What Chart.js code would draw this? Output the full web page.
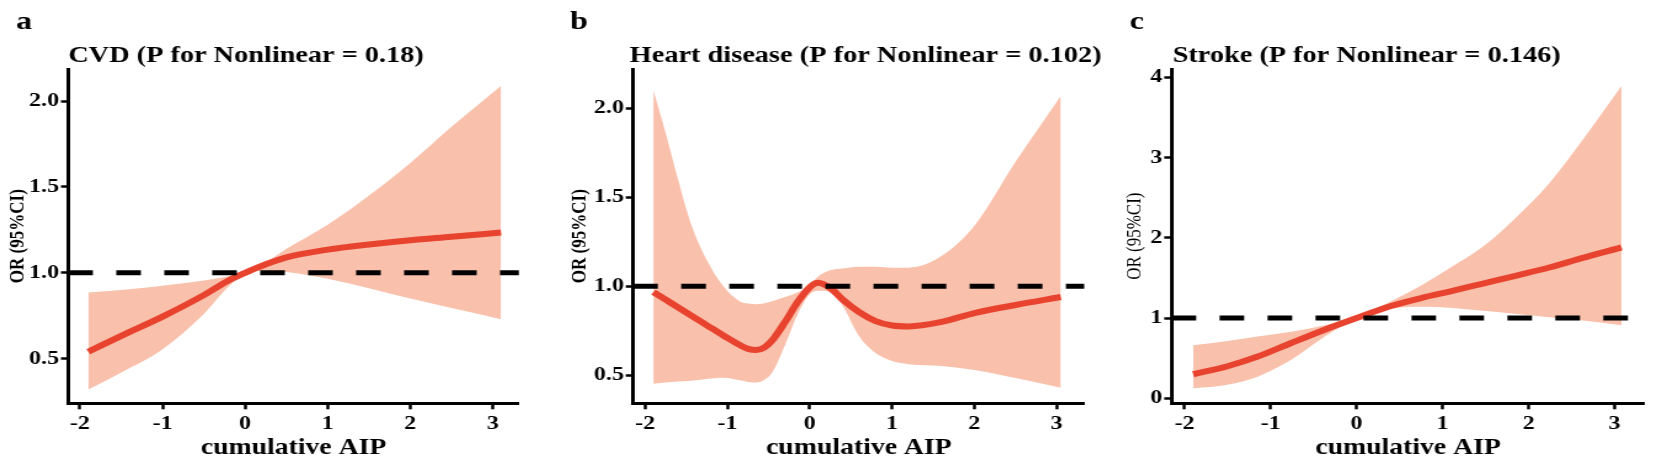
<!DOCTYPE html>
<html>
<head>
<meta charset="utf-8">
<script src="https://cdn.jsdelivr.net/npm/chart.js@4.4.1/dist/chart.umd.min.js"></script>
<style>
  html, body { margin: 0; padding: 0; background: #fff; }
  body { width: 1654px; height: 469px; position: relative; overflow: hidden; }
  .panel { position: absolute; top: 0; height: 469px; transform-origin: 0 0; }
</style>
</head>
<body>
<div class="panel" id="panelA"><canvas></canvas></div>
<div class="panel" id="panelB"><canvas></canvas></div>
<div class="panel" id="panelC"><canvas></canvas></div>
<script>
// ---- data ----
const xTicks = [-2, -1, 0, 1, 2, 3];
const xTickLabels = ["-2", "-1", "0", "1", "2", "3"];
const refOR = 1;

// a: CVD
const cvdX    = [-1.9, -1.5, -1.0, -0.5, -0.2, 0, 0.25, 0.5, 1.0, 1.5, 2.0, 2.5, 3.1];
const cvdOR   = [0.54, 0.633, 0.745, 0.87, 0.955, 1.0, 1.05, 1.09, 1.135, 1.165, 1.19, 1.21, 1.235];
const cvdLow  = [0.32, 0.42, 0.555, 0.76, 0.92, 0.995, 1.012, 1.005, 0.965, 0.91, 0.85, 0.795, 0.73];
const cvdHigh = [0.885, 0.9, 0.925, 0.955, 0.98, 1.005, 1.06, 1.14, 1.28, 1.45, 1.64, 1.85, 2.09];
const cvdYTicks = [0.5, 1.0, 1.5, 2.0];
const cvdYTickLabels = ["0.5", "1.0", "1.5", "2.0"];

// b: Heart disease
const heartX    = [-1.9, -1.75, -1.6, -1.45, -1.25, -1.05, -0.85, -0.75, -0.65, -0.55, -0.45, -0.3, -0.15, 0.0, 0.1, 0.25, 0.4, 0.6, 0.8, 1.0, 1.2, 1.6, 2.0, 2.5, 3.05];
const heartOR   = [0.968, 0.925, 0.882, 0.838, 0.781, 0.724, 0.67, 0.649, 0.642, 0.657, 0.7, 0.8, 0.91, 0.995, 1.02, 0.99, 0.925, 0.855, 0.805, 0.78, 0.775, 0.80, 0.85, 0.895, 0.94];
const heartLow  = [0.453, 0.46, 0.465, 0.47, 0.48, 0.487, 0.472, 0.463, 0.46, 0.475, 0.52, 0.67, 0.84, 0.955, 0.975, 0.97, 0.89, 0.72, 0.625, 0.58, 0.563, 0.553, 0.53, 0.485, 0.43];
const heartHigh = [2.1, 1.86, 1.6, 1.36, 1.146, 1.0, 0.915, 0.903, 0.9, 0.905, 0.918, 0.94, 0.965, 1.005, 1.055, 1.09, 1.1, 1.11, 1.11, 1.105, 1.105, 1.17, 1.34, 1.7, 2.07];
const heartYTicks = [0.5, 1.0, 1.5, 2.0];
const heartYTickLabels = ["0.5", "1.0", "1.5", "2.0"];

// c: Stroke
const strokeX    = [-1.9, -1.5, -1.15, -0.76, -0.37, 0, 0.4, 0.79, 1.08, 1.47, 1.86, 2.24, 2.63, 3.08];
const strokeOR   = [0.30, 0.40, 0.52, 0.69, 0.855, 1.0, 1.15, 1.26, 1.33, 1.43, 1.53, 1.63, 1.75, 1.88];
const strokeLow  = [0.125, 0.17, 0.27, 0.48, 0.77, 0.99, 1.12, 1.14, 1.13, 1.09, 1.05, 1.01, 0.97, 0.91];
const strokeHigh = [0.66, 0.715, 0.77, 0.83, 0.91, 1.01, 1.21, 1.43, 1.62, 1.89, 2.26, 2.68, 3.22, 3.89];
const strokeYTicks = [0, 1, 2, 3, 4];
const strokeYTickLabels = ["0", "1", "2", "3", "4"];

// ---- look ----
const S = 1.23;               // the figure is stretched horizontally
const FONT = '"Liberation Serif", "Times New Roman", serif';
const LINE_RED = "#e8432e";
const BAND = "#f9c0ab";

Chart.defaults.font.family = FONT;
Chart.defaults.color = "#000";

const pts = (xs, ys) => xs.map((x, i) => ({ x: x, y: ys[i] }));

const panelText = {
  id: "panelText",
  afterDraw(chart, args, opts) {
    const ctx = chart.ctx;
    ctx.save();
    ctx.fillStyle = "#000";
    ctx.textBaseline = "alphabetic";
    ctx.textAlign = "left";
    ctx.font = "bold 26px " + FONT;
    ctx.fillText(opts.letter, opts.letterX, 28.5);
    ctx.font = "bold 23px " + FONT;
    ctx.fillText(opts.title, chart.chartArea.left + opts.titleDx, 61.5);
    ctx.restore();
  }
};

function makePanel(id, p) {
  const box = document.getElementById(id);
  const w = (p.canvasRight - p.canvasLeft) / S;
  box.style.left = p.canvasLeft + "px";
  box.style.width = w + "px";
  box.style.transform = "scaleX(" + S + ")";

  const axisStyle = {
    grid: { display: true, drawOnChartArea: false, drawTicks: true, tickLength: 6, tickWidth: 2.5, tickColor: "#000" },
    border: { display: true, color: "#000", width: 3 }
  };

  new Chart(box.querySelector("canvas"), {
    type: "line",
    data: {
      datasets: [
        {
          data: [{ x: p.xMin, y: refOR }, { x: p.xMax, y: refOR }],
          borderColor: "#000", borderWidth: 5, borderDash: [20, 19], borderCapStyle: "butt",
          pointRadius: 0, fill: false
        },
        {
          data: pts(p.x, p.or),
          borderColor: LINE_RED, borderWidth: 6, pointRadius: 0, fill: false,
          cubicInterpolationMode: "monotone"
        },
        {
          data: pts(p.x, p.high),
          borderWidth: 0, borderColor: "rgba(0,0,0,0)", backgroundColor: BAND,
          pointRadius: 0, fill: "+1", cubicInterpolationMode: "monotone"
        },
        {
          data: pts(p.x, p.low),
          borderWidth: 0, borderColor: "rgba(0,0,0,0)", pointRadius: 0, fill: false,
          cubicInterpolationMode: "monotone"
        }
      ]
    },
    options: {
      responsive: true,
      maintainAspectRatio: false,
      animation: false,
      events: [],
      layout: { padding: { left: 0, right: (p.canvasRight - p.axisRight) / S, top: 69, bottom: 0 } },
      plugins: {
        legend: { display: false },
        tooltip: { enabled: false },
        panelText: { letter: p.letter, letterX: (p.letterX - p.canvasLeft) / S, title: p.title, titleDx: p.titleDx / S }
      },
      scales: {
        x: {
          type: "linear",
          min: p.xMin,
          max: p.xMax,
          afterBuildTicks: (s) => { s.ticks = xTicks.map((v) => ({ value: v })); },
          afterFit: (s) => { s.height = 469 - 403.3; },
          ticks: {
            font: { size: 19.5, weight: "bold" }, color: "#000", padding: 3,
            autoSkip: false, maxRotation: 0,
            callback: (v, i) => xTickLabels[i]
          },
          title: {
            display: true, text: "cumulative AIP", color: "#000",
            font: { size: 22.5, weight: "bold" }, padding: { top: 0, bottom: 7 }
          },
          ...axisStyle
        },
        y: {
          type: "linear",
          min: p.yMin,
          max: p.yMax,
          afterBuildTicks: (s) => { s.ticks = p.yTicks.map((v) => ({ value: v })); },
          afterFit: (s) => { s.width = (p.axisLeft - p.canvasLeft) / S; },
          ticks: {
            font: { size: 19.5, weight: "bold" }, color: "#000", padding: 1.5,
            autoSkip: false,
            callback: (v, i) => p.yTickLabels[i]
          },
          title: {
            display: true, text: "OR (95%CI)", color: "#000",
            font: { size: 17, weight: p.yTitleWeight }, padding: { top: 0, bottom: 0 }
          },
          ...axisStyle
        }
      }
    },
    plugins: [panelText]
  });
}

makePanel("panelA", {
  letter: "a", title: "CVD (P for Nonlinear = 0.18)", yTitleWeight: "bold",
  x: cvdX, or: cvdOR, low: cvdLow, high: cvdHigh,
  yTicks: cvdYTicks, yTickLabels: cvdYTickLabels,
  xMin: -2.142, xMax: 3.317, yMin: 0.24, yMax: 2.187,
  canvasLeft: 5, canvasRight: 560, axisLeft: 68.3, axisRight: 519, letterX: 16, titleDx: 0
});

makePanel("panelB", {
  letter: "b", title: "Heart disease (P for Nonlinear = 0.102)", yTitleWeight: "bold",
  x: heartX, or: heartOR, low: heartLow, high: heartHigh,
  yTicks: heartYTicks, yTickLabels: heartYTickLabels,
  xMin: -2.146, xMax: 3.337, yMin: 0.343, yMax: 2.221,
  canvasLeft: 567, canvasRight: 1115, axisLeft: 633, axisRight: 1083.3, letterX: 570, titleDx: -3.5
});

makePanel("panelC", {
  letter: "c", title: "Stroke (P for Nonlinear = 0.146)", yTitleWeight: "normal",
  x: strokeX, or: strokeOR, low: strokeLow, high: strokeHigh,
  yTicks: strokeYTicks, yTickLabels: strokeYTickLabels,
  xMin: -2.151, xMax: 3.349, yMin: -0.062, yMax: 4.103,
  canvasLeft: 1122.4, canvasRight: 1654, axisLeft: 1172, axisRight: 1645, letterX: 1130, titleDx: 1
});
</script>
</body>
</html>
